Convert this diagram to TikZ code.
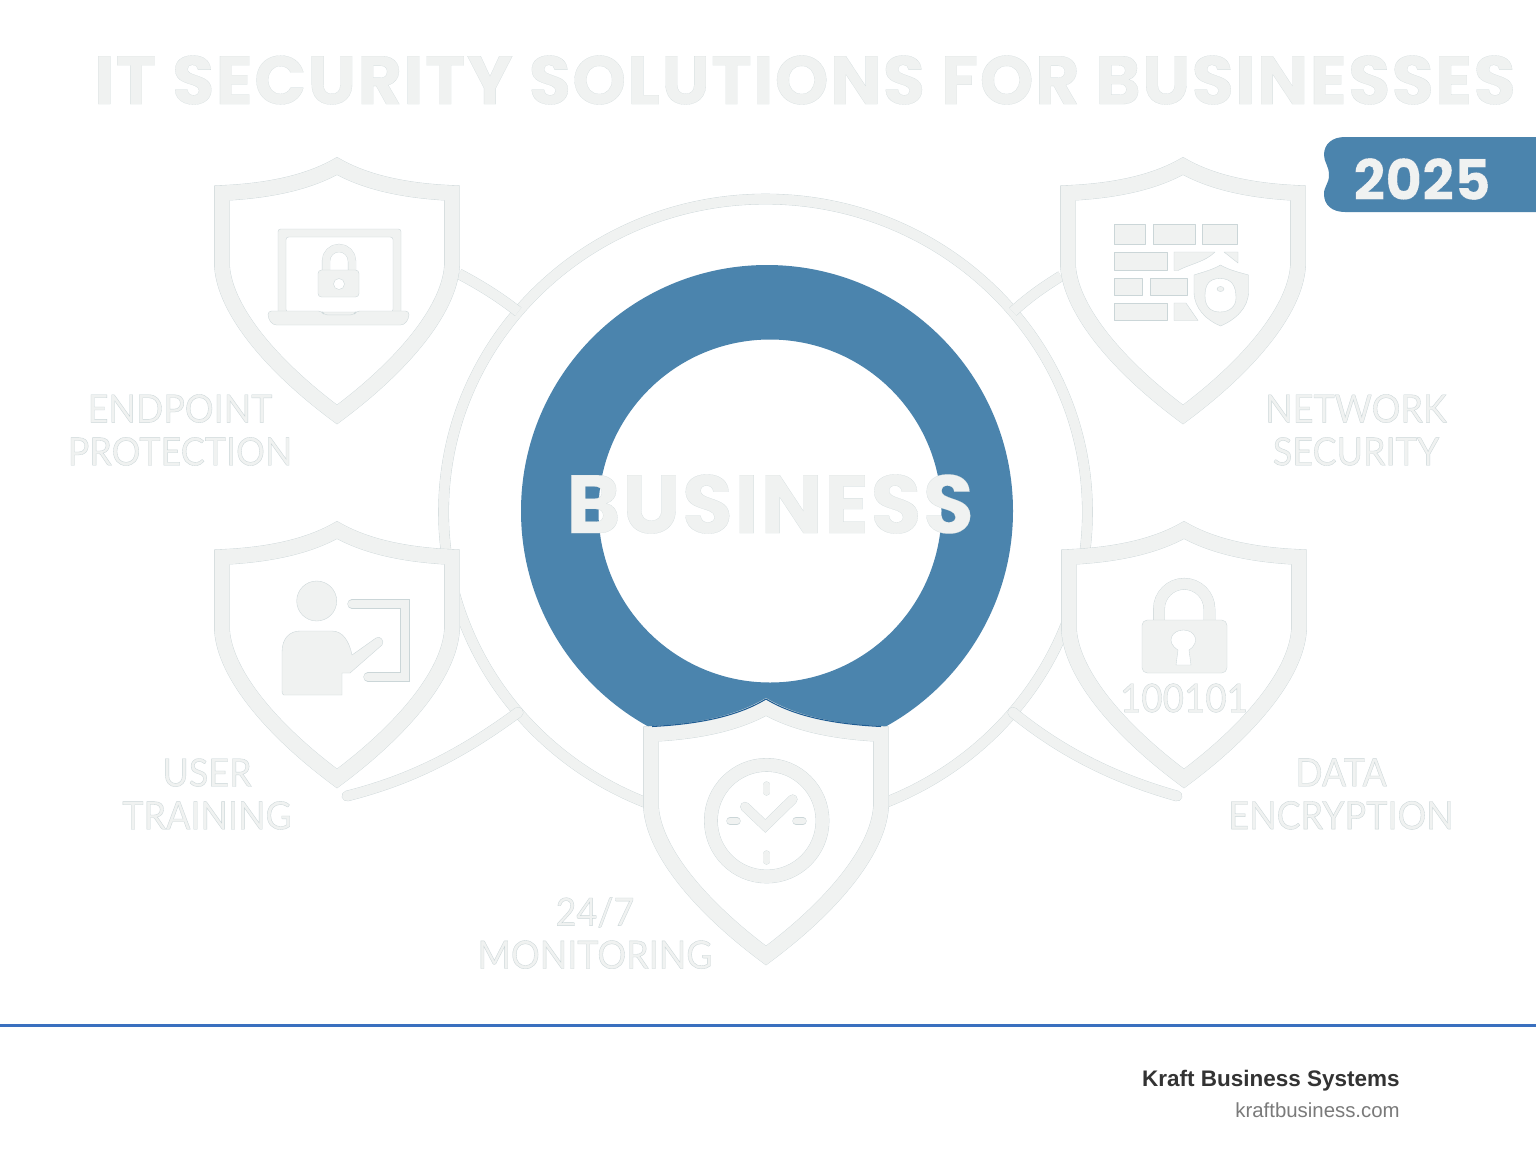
\documentclass[tikz,border=0pt]{standalone}
\usepackage{fontspec}
\usetikzlibrary{arrows,shapes.geometric}
\setmainfont{Liberation Sans}
\newfontfamily\headfont[FakeBold=0.15,LetterSpace=2,UprightFont={* Bold}]{Poppins}
\newfontfamily\labelfont[FakeBold=0.9,FakeStretch=0.93]{Lato}
\newfontfamily\yearfont[FakeBold=0.1,UprightFont={* Bold}]{Poppins}
\definecolor{ghostfill}{HTML}{F0F2F1}
\definecolor{ghostedge}{HTML}{CBD6D8}
\definecolor{brand}{HTML}{4B84AD}
\definecolor{brandedge}{HTML}{1F5C92}
\definecolor{rule}{HTML}{3A70BF}
\newcommand{\edged}{\pgfsetstrokecolor{ghostedge}}
\tikzstyle{ghostline}=[draw=ghostedge,double=ghostfill,line width=0.2pt]
\tikzstyle{ghostarea}=[draw=ghostedge,fill=ghostfill,line width=0.2pt,line join=round]
\tikzstyle{shieldbox}=[rectangle,minimum width=4.88cm,minimum height=5.32cm,inner sep=0pt,outer sep=0pt]
\tikzstyle{caption}=[text=ghostfill,align=center,inner sep=0pt,font=\labelfont\fontsize{22}{24.4}\selectfont]
\tikzset{
  pics/shieldmark/.style={code={
    \path[ghostline,double distance=0.3cm,fill=white,line join=miter] (0,-125) .. controls (-30,-108) and (-70,-100) .. (-115,-98)
      -- (-115,-25) .. controls (-112,20) and (-64,76) .. (0,123.5)
      .. controls (64,76) and (112,20) .. (115,-25) -- (115,-98)
      .. controls (70,-100) and (30,-108) .. (0,-125) -- cycle;
  }}
}
\begin{document}
\begin{tikzpicture}[x=0.02cm,y=-0.02cm]
    \useasboundingbox (0,0) rectangle (1536,1154);
    \fill[white] (0,0) rectangle (1536,1154);
    % Title and year tab
    \node[text=ghostfill,inner sep=0pt,font=\headfont\fontsize{39}{39}\selectfont] (title) at (805,80) {\edged IT SECURITY SOLUTIONS FOR BUSINESSES};
    \fill[brand] (1345,137) -- (1536,137) -- (1536,212) -- (1345,212)
      .. controls (1332,212) and (1324,205) .. (1324,194)
      .. controls (1324,186) and (1329,184) .. (1329,175)
      .. controls (1329,166) and (1324,162) .. (1324,155)
      .. controls (1324,144) and (1332,137) .. (1345,137) -- cycle;
    \node[text=ghostfill,inner sep=0pt,font=\yearfont\fontsize{32}{32}\selectfont] (year) at (1422,179) {\pgfsetstrokecolor{brandedge}2025};
    % Outer ring and the blue band
    \node[ellipse,ghostline,double distance=0.2cm,minimum width=12.88cm,minimum height=12.52cm,inner sep=0pt,outer sep=0pt] (ring) at (765.5,512) {};
    \fill[brand,even odd rule] (767,511) circle (246) (770,511) circle (171.5);
    % Shields
    \foreach \pos/\name in {{(337,291)/endpoint}, {(1183,291)/network}, {(337,655)/training}, {(1184,655)/encryption}, {(766,832)/monitoring}}
        \node[shieldbox] (\name) at \pos {};
    \coordinate (trainingend) at (347,796);
    \coordinate (encryptionend) at (1177,796);
    % Connect shields with the ring
    \path[ghostline,double distance=0.2cm] (endpoint.8) .. controls (480,285) and (498,296) .. (ring.141);
    \path[ghostline,double distance=0.2cm] (network.173) .. controls (1045,286) and (1030,296) .. (ring.39);
    \path[ghostline,double distance=0.2cm,line cap=round] (ring.219) .. controls (460,755) and (410,780) .. (trainingend);
    \path[ghostline,double distance=0.2cm,line cap=round] (ring.321) .. controls (1065,755) and (1120,780) .. (encryptionend);
    \foreach \name in {endpoint,network,training,encryption,monitoring}
        \pic at (\name.center) {shieldmark};
    \draw[brandedge,line width=0.6pt] (652,726.5) .. controls (700,724) and (738,716) .. (766,699) .. controls (794,716) and (832,724) .. (881,726.5);
    % Laptop
    \path[ghostarea,even odd rule,rounded corners=1.5pt] (278,229) rectangle (401,315) (286,237) rectangle (393,312);
    \path[ghostarea,rounded corners=2pt] (268,311) -- (322,311) -- (324,315) -- (354,315) -- (356,311) -- (409,311) -- (409,318) -- (404,325) -- (273,325) -- (268,318) -- cycle;
    \path[ghostline,double distance=0.15cm] (326,271) -- (326,261) arc (180:360:13 and 13) -- (352,271);
    \path[ghostarea,rounded corners=2pt] (318,270) rectangle (359,297);
    \path[draw=ghostedge,fill=white,line width=0.2pt] (339,284) circle (5.5);
    % Firewall
    \foreach \x/\y/\w/\h in {1114/224/31/20.5, 1153/224/42/20.5, 1202/224/35/20.5, 1114/252/53/18.5, 1114/278/28/17, 1150/278/37/17, 1114/303/53/17.5}
        \path[ghostarea] (\x,\y) rectangle ++(\w,\h);
    \path[ghostarea] (1174,252) -- (1215,252) .. controls (1205,262) and (1190,264) .. (1178,270.5) -- (1174,270.5) -- cycle;
    \path[ghostarea] (1224,252) -- (1238,252) -- (1238,263) -- cycle;
    \path[ghostarea] (1174,303) -- (1186,303) -- (1198,320.5) -- (1174,320.5) -- cycle;
    \path[ghostarea,even odd rule] (1220.5,265) .. controls (1212,270) and (1203,272) .. (1194,275) -- (1194,292) .. controls (1194,308) and (1206,320) .. (1220.5,326)
      .. controls (1235,320) and (1248.5,308) .. (1248.5,292) -- (1248.5,275) .. controls (1238,272) and (1229,270) .. (1220.5,265) -- cycle
      (1220,278.5) .. controls (1208,278.5) and (1205,286) .. (1205,296) .. controls (1205,306) and (1210,312) .. (1220,312) .. controls (1230,312) and (1236,306) .. (1236,298) .. controls (1236,286) and (1232,278.5) .. (1220,278.5) -- cycle;
    \path[ghostarea] (1220.5,289) ellipse (3.5 and 2.5);
    % Trainer at the board
    \path[ghostarea] (316.7,601) circle (20);
    \path[ghostarea] (284,695) .. controls (282,695) and (282,693) .. (282,690) -- (282,652) .. controls (282,638) and (290,631) .. (300,631) -- (332,631)
      .. controls (342,631) and (349,640) .. (352,655) -- (376,638) .. controls (380,635) and (385,641) .. (382,645) -- (350,673) -- (342,673) -- (342,695) -- cycle;
    \path[ghostline,double distance=0.17cm,line cap=round,line join=miter] (352,604) -- (405,604) -- (405,677) -- (368,677);
    % Padlock
    \path[ghostline,double distance=0.22cm] (1159,622) -- (1159,609) arc (180:360:25.2 and 25.2) -- (1209.4,622);
    \path[ghostarea,rounded corners=3pt] (1142,620) rectangle (1227,673);
    \path[draw=ghostedge,fill=white,line width=0.2pt] (1176,665) -- (1178,650) .. controls (1165,642) and (1172,630) .. (1183.3,630) .. controls (1195,630) and (1201,642) .. (1189,650) -- (1191,665) -- cycle;
    \node[caption,font=\labelfont\fontsize{22.5}{24}\selectfont] (bits) at (1184,698) {\edged 100101};
    % Clock
    \path[ghostline,double distance=0.26cm] (766.7,820.7) circle (55.8);
    \path[ghostline,double distance=0.13cm,line cap=round] (766.7,785) -- (766.7,792);
    \path[ghostline,double distance=0.13cm,line cap=round] (766.7,854) -- (766.7,861);
    \path[ghostline,double distance=0.13cm,line cap=round] (730,821) -- (737,821);
    \path[ghostline,double distance=0.13cm,line cap=round] (796,821) -- (803,821);
    \path[ghostline,double distance=0.18cm,line cap=round,line join=miter] (745,806.7) -- (765.3,826) -- (792.7,799.3);
    % Labels
    \node[text=ghostfill,inner sep=0pt,font=\headfont\fontsize{47}{47}\selectfont] (business) at (770,504) {\edged BUSINESS};
    \node[caption] (endpointlabel) at (180,430) {\edged ENDPOINT\\\edged PROTECTION};
    \node[caption] (networklabel) at (1356,430) {\edged NETWORK\\\edged SECURITY};
    \node[caption] (traininglabel) at (207,794) {\edged USER\\\edged TRAINING};
    \node[caption] (encryptionlabel) at (1341,794) {\edged DATA\\\edged ENCRYPTION};
    \node[caption] (monitoringlabel) at (595,933) {\edged 24/7\\\edged MONITORING};
    % Footer
    \draw[rule,line width=0.06cm] (0,1025.5) -- (1536,1025.5);
    \node[anchor=base east,inner sep=0pt,text=black!80,font=\bfseries\fontsize{12.8}{16}\selectfont] (company) at (1400,1086) {Kraft Business Systems};
    \node[anchor=base east,inner sep=0pt,text=black!52,font=\fontsize{11.6}{14}\selectfont] (site) at (1400,1117) {kraftbusiness.com};
\end{tikzpicture}
\end{document}
